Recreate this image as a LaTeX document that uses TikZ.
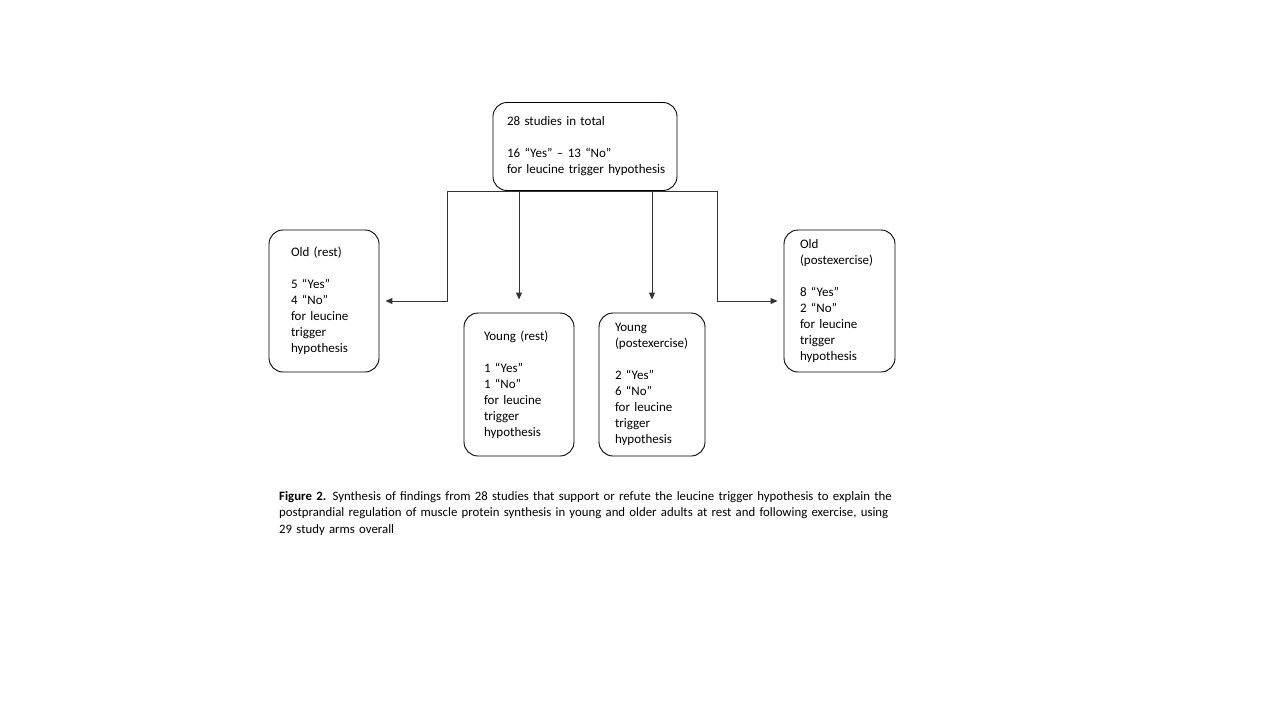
\documentclass[tikz,border=0pt]{standalone}
\usepackage{fontspec}
\setmainfont{Carlito}
\usetikzlibrary{arrows.meta}
\newcommand\nohyph{\hyphenpenalty=10000\relax\exhyphenpenalty=10000\relax}
\newcommand\lowerby[1]{\par\vspace{-#1}}
\begin{document}
\begin{tikzpicture}[x=1pt,y=-1pt,
  box/.style={draw=black, line width=0.9pt, rounded corners=14pt, align=left, inner sep=0pt,
    font=\fontsize{13}{16}\selectfont\nohyph},
  link/.style={draw=black!80, line width=1pt},
  arr/.style={link, -{Triangle[length=7pt,width=6pt]}},
  captext/.style={anchor=north west, align=left, inner sep=0pt, text width=680pt,
    font=\fontsize{12.8}{16.5}\selectfont}]
\useasboundingbox[fill=white] (0,0) rectangle (1280,720);

\node[box, minimum width=184pt, minimum height=88pt, text width=156pt] (top) at (585,146.5)
  {28 studies in total\\[16pt]16 “Yes” – 13 “No”\\for~leucine~trigger~hypothesis\lowerby{3pt}};
\node[box, minimum width=110pt, minimum height=142pt, text width=66pt] (oldrest) at (324,301)
  {Old (rest)\\[16pt]5 “Yes”\\4 “No”\\for leucine\\trigger\\hypothesis\lowerby{4pt}};
\node[box, minimum width=110pt, minimum height=143pt, text width=70pt] (youngrest) at (519,384.5)
  {Young (rest)\\[16pt]1 “Yes”\\1 “No”\\for leucine\\trigger\\hypothesis\lowerby{2pt}};
\node[box, minimum width=106pt, minimum height=143pt, text width=74pt] (youngpost) at (652,384.5)
  {Young\\(postexercise)\\[16pt]2 “Yes”\\6 “No”\\for leucine\\trigger\\hypothesis\lowerby{7pt}};
\node[box, minimum width=111pt, minimum height=142pt, text width=79pt] (oldpost) at (839.5,301)
  {Old\\(postexercise)\\[16pt]8 “Yes”\\2 “No”\\for leucine\\trigger\\hypothesis\lowerby{4pt}};

\coordinate (bl) at (447,191);
\coordinate (br) at (717,191);
\draw[link] (bl) -- (br);
\draw[arr, shorten >=6pt] (bl) |- (oldrest.east);
\draw[arr, shorten >=13pt] (youngrest.north |- bl) -- (youngrest.north);
\draw[arr, shorten >=13pt] (youngpost.north |- bl) -- (youngpost.north);
\draw[arr, shorten >=6pt] (br) |- (oldpost.west);

\node[captext] (caption) at (279,491)
  {\textbf{Figure 2.} Synthesis of findings from 28 studies that support or refute the leucine trigger hypothesis to explain the\\
  postprandial regulation of muscle protein synthesis in young and older adults at rest and following exercise, using\\
  29 study arms overall};
\end{tikzpicture}
\end{document}
